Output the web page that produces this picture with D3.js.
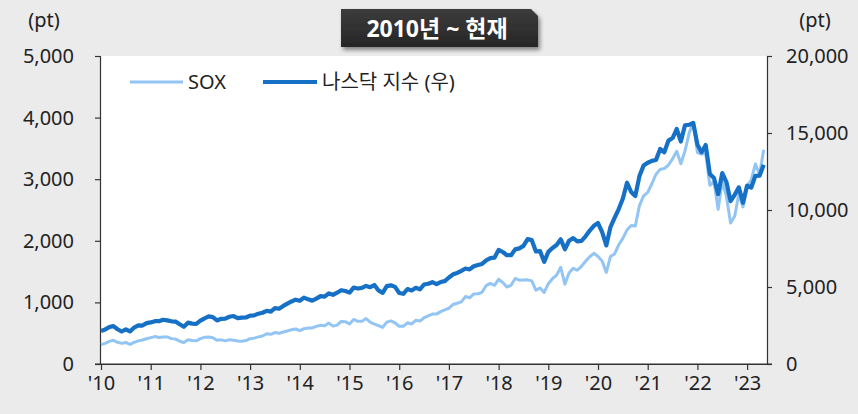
<!DOCTYPE html>
<html><head><meta charset="utf-8">
<script src="https://cdn.jsdelivr.net/npm/d3@7/dist/d3.min.js"></script>
<style>
body{margin:0;background:#ebebeb;}
svg{display:block;}
svg text{font-family:"Noto Sans","Noto Sans CJK KR",sans-serif;}
</style></head><body>
<svg id="c" width="858" height="414"></svg>
<script>
const startYear = 2010;
const yearTicks = ["'10","'11","'12","'13","'14","'15","'16","'17","'18","'19","'20","'21","'22","'23"];
const leftTicks = [0,1000,2000,3000,4000,5000];
const rightTicks = [0,5000,10000,15000,20000];
const seriesNames = ["SOX","나스닥 지수 (우)"];
const title = "2010년 ~ 현재";
// monthly, Jan 2010 .. May 2023
const sox = [
 315,335,368,385,352,335,350,318,352,375,390,410,
 428,445,430,440,440,412,404,370,350,394,382,376,
 412,433,437,425,385,392,376,395,384,373,370,380,
 410,420,440,455,490,482,510,498,520,537,556,568,
 541,574,583,585,610,630,620,664,615,631,691,687,
 650,723,693,692,737,680,648,624,595,680,700,669,
 612,613,669,650,709,697,750,780,810,810,850,878,
 905,967,986,1008,1095,1075,1137,1140,1164,1273,1308,1278,
 1375,1324,1250,1278,1389,1361,1363,1366,1349,1199,1233,1163,
 1304,1384,1443,1570,1297,1478,1554,1522,1586,1667,1741,1797,
 1746,1670,1486,1745,1787,1935,2039,2177,2250,2240,2570,2730,
 2787,2926,3080,3160,3174,3230,3330,3454,3250,3460,3748,3927,
 3432,3407,3417,2900,2961,2510,2970,2721,2290,2400,2760,2550,
 2880,2990,3247,3073,3480];
const nasdaq = [
 2147,2238,2398,2461,2257,2109,2255,2114,2369,2507,2498,2653,
 2700,2782,2781,2874,2835,2774,2756,2579,2415,2684,2620,2605,
 2814,2967,3092,3046,2827,2935,2940,3067,3116,2977,3010,3020,
 3142,3160,3268,3329,3456,3403,3626,3590,3771,3920,4060,4177,
 4104,4308,4199,4115,4243,4408,4370,4580,4493,4631,4792,4736,
 4635,4964,4901,4941,5070,4987,5128,4777,4620,5054,5109,5007,
 4614,4558,4870,4775,4948,4843,5162,5213,5312,5189,5324,5383,
 5615,5825,5912,6048,6199,6140,6348,6429,6496,6728,6874,6903,
 7411,7273,7063,7066,7442,7510,7672,8110,8046,7306,7331,6635,
 7282,7533,7729,8095,7453,8006,8175,7963,7999,8292,8665,8973,
 9151,8567,7700,8890,9490,10059,10745,11775,11168,10912,12199,12888,
 13070,13192,13247,13962,13749,14504,14673,15259,14448,15498,15538,15645,
 14240,13751,14221,12335,12081,11029,12391,11816,10576,10988,11468,10466,
 11585,11456,12222,12227,12935];

const svg = d3.select("#c");
const M = {l:101, r:767, t:56, b:364};
const x = d3.scaleLinear().domain([0,160.8]).range([M.l,M.r]);
const yL = d3.scaleLinear().domain([0,5000]).range([M.b,M.t]);
const yR = d3.scaleLinear().domain([0,20000]).range([M.b,M.t]);

svg.append("rect").attr("x",M.l).attr("y",M.t).attr("width",M.r-M.l).attr("height",M.b-M.t).attr("fill","#fff");

const fmt = d3.format(",");
const ax = svg.append("g").attr("transform",`translate(${M.l-1},0)`)
  .call(d3.axisLeft(yL).tickValues(leftTicks).tickFormat(fmt).tickSize(5).tickSizeOuter(5).tickPadding(21));
const axR = svg.append("g").attr("transform",`translate(${M.r},0)`)
  .call(d3.axisRight(yR).tickValues(rightTicks).tickFormat(fmt).tickSize(5).tickSizeOuter(5).tickPadding(14));
const axB = svg.append("g").attr("transform",`translate(0,${M.b})`)
  .call(d3.axisBottom(x).tickValues(yearTicks.map((d,i)=>i*12)).tickFormat((d,i)=>yearTicks[i]).tickSize(6).tickSizeOuter(0).tickPadding(6));
svg.append("line").attr("x1",M.l-6).attr("x2",M.r+5).attr("y1",M.b).attr("y2",M.b).attr("stroke","#333").attr("stroke-width",1.2);
[ax,axR,axB].forEach(g=>{
  g.attr("font-family",null).attr("font-size",null);
  g.selectAll("path,line").attr("stroke","#333").attr("stroke-width",1.2);
  g.selectAll("text").attr("fill","#222").style("font-size","20px").style("font-family",'"Noto Sans",sans-serif');
});
axB.selectAll("text").attr("dy","0.72em");

const lineSox = d3.line().x((d,i)=>x(i)).y(d=>yL(d));
const lineNas = d3.line().x((d,i)=>x(i)).y(d=>yR(d));
svg.append("path").datum(sox).attr("d",lineSox).attr("fill","none").attr("stroke","#92c4f4").attr("stroke-width",3).attr("stroke-linejoin","round");
svg.append("path").datum(nasdaq).attr("d",lineNas).attr("fill","none").attr("stroke","#1570c6").attr("stroke-width",4.2).attr("stroke-linejoin","round");

// legend
const lg = svg.append("g");
lg.append("line").attr("x1",130).attr("x2",183).attr("y1",82).attr("y2",82).attr("stroke","#92c4f4").attr("stroke-width",3);
lg.append("text").attr("x",188).attr("y",89).text(seriesNames[0]).attr("fill","#222").style("font-size","20px");
lg.append("line").attr("x1",263).attr("x2",317).attr("y1",82).attr("y2",82).attr("stroke","#1570c6").attr("stroke-width",4.2);
lg.append("text").attr("x",322).attr("y",89).text(seriesNames[1]).attr("fill","#222").style("font-size","20px");

// unit labels
svg.append("text").attr("x",44).attr("y",27).attr("text-anchor","middle").text("(pt)").attr("fill","#222").style("font-size","20px");
svg.append("text").attr("x",815).attr("y",27).attr("text-anchor","middle").text("(pt)").attr("fill","#222").style("font-size","20px");

// title box
const defs = svg.append("defs");
const gr = defs.append("linearGradient").attr("id","tg").attr("x1",0).attr("x2",0).attr("y1",0).attr("y2",1);
gr.append("stop").attr("offset","0").attr("stop-color","#3c3c3c");
gr.append("stop").attr("offset","1").attr("stop-color","#262626");
const f = defs.append("filter").attr("id","sh").attr("x","-10%").attr("y","-20%").attr("width","130%").attr("height","160%");
f.append("feDropShadow").attr("dx",2).attr("dy",3).attr("stdDeviation",2).attr("flood-color","#000").attr("flood-opacity",0.45);
svg.append("path").attr("d","M341,9 H531 L538,16 V47 H341 Z").attr("fill","url(#tg)").attr("filter","url(#sh)");
svg.append("text").attr("x",437).attr("y",37).attr("text-anchor","middle").text(title)
  .attr("fill","#fff").style("font-size","23px").style("font-weight","bold");
</script></body></html>
